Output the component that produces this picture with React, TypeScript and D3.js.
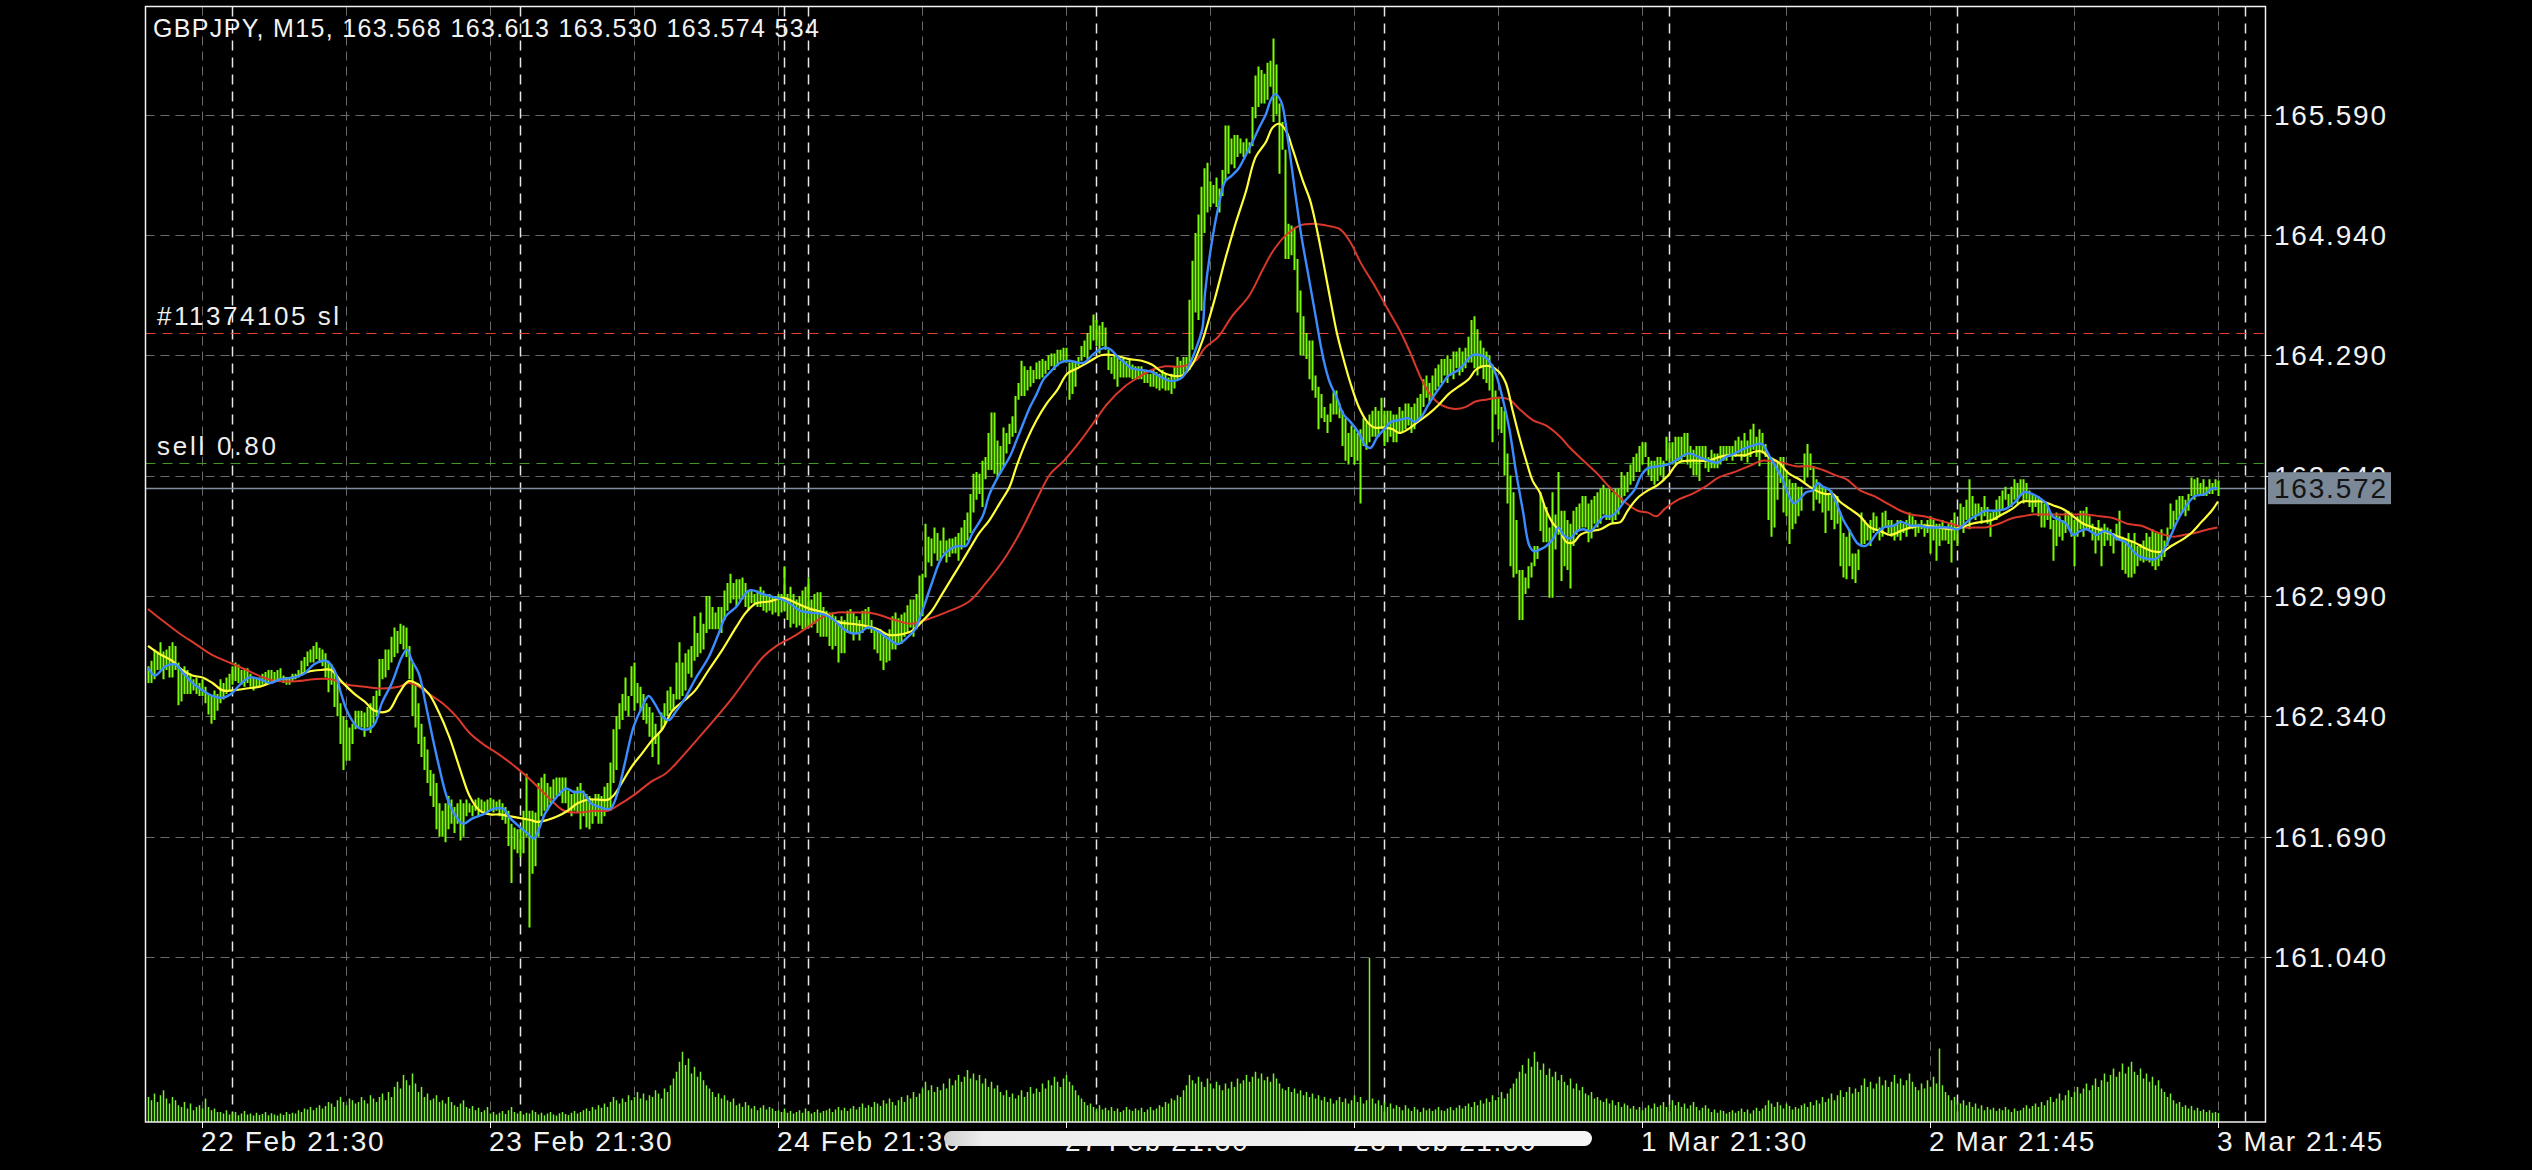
import React from 'react';
import * as d3 from 'd3';

// ---------------- DATA ----------------
const chartTitle = 'GBPJPY, M15, 163.568 163.613 163.530 163.574 534';
const priceTicks = [165.59, 164.94, 164.29, 163.64, 162.99, 162.34, 161.69, 161.04];
const timeLabels = ['22 Feb 21:30', '23 Feb 21:30', '24 Feb 21:30', '27 Feb 21:30', '28 Feb 21:30', '1 Mar 21:30', '2 Mar 21:45', '3 Mar 21:45'];
const timeLabelBars = [18, 114, 210, 306, 402, 498, 594, 690];
const gridBars = [18, 66, 114, 162, 210, 258, 306, 354, 402, 450, 498, 546, 594, 642, 690];
const daySeparatorBars = [28, 124, 212, 220, 316, 412, 507, 603, 699];
const stopLossPrice = 164.408;
const sellPrice = 163.706;
const bidPrice = 163.572;
const stopLossLabel = '#11374105 sl';
const sellLabel = 'sell 0.80';

// [high, low] per M15 bar
const priceBars: [number, number][] = [
[162.61,162.52],[162.64,162.52],[162.70,162.54],[162.69,162.59],[162.74,162.59],[162.69,162.54],[162.70,162.59],[162.72,162.55],[162.74,162.55],[162.72,162.59],
[162.63,162.40],[162.59,162.42],[162.61,162.46],[162.59,162.46],[162.57,162.46],[162.54,162.48],[162.55,162.46],[162.52,162.45],[162.54,162.45],[162.50,162.41],
[162.46,162.35],[162.45,162.30],[162.48,162.32],[162.46,162.37],[162.54,162.41],[162.52,162.43],[162.55,162.46],[162.57,162.48],[162.61,162.51],[162.63,162.53],
[162.62,162.52],[162.59,162.51],[162.60,162.50],[162.60,162.52],[162.57,162.50],[162.55,162.48],[162.55,162.50],[162.55,162.50],[162.57,162.51],[162.58,162.51],
[162.59,162.52],[162.59,162.53],[162.58,162.53],[162.59,162.54],[162.60,162.54],[162.56,162.52],[162.55,162.51],[162.55,162.51],[162.57,162.53],[162.57,162.54],
[162.59,162.55],[162.64,162.56],[162.66,162.58],[162.69,162.61],[162.70,162.63],[162.72,162.63],[162.74,162.65],[162.71,162.63],[162.70,162.61],[162.68,162.55],
[162.64,162.47],[162.62,162.51],[162.59,162.39],[162.54,162.34],[162.41,162.19],[162.34,162.05],[162.32,162.10],[162.28,162.10],[162.30,162.19],[162.37,162.27],
[162.37,162.28],[162.37,162.28],[162.36,162.23],[162.39,162.28],[162.41,162.25],[162.45,162.30],[162.48,162.34],[162.65,162.45],[162.65,162.54],[162.70,162.55],
[162.70,162.59],[162.77,162.63],[162.82,162.66],[162.80,162.68],[162.84,162.73],[162.83,162.70],[162.82,162.66],[162.72,162.54],[162.63,162.34],[162.52,162.28],
[162.41,162.19],[162.30,162.12],[162.23,162.05],[162.16,161.98],[162.05,161.91],[162.03,161.85],[161.98,161.73],[161.87,161.69],[161.83,161.69],[161.87,161.66],
[161.91,161.73],[161.89,161.76],[161.85,161.71],[161.87,161.76],[161.89,161.67],[161.87,161.69],[161.89,161.80],[161.87,161.82],[161.86,161.80],[161.89,161.83],
[161.90,161.80],[161.89,161.83],[161.88,161.82],[161.89,161.82],[161.90,161.83],[161.89,161.82],[161.88,161.83],[161.89,161.80],[161.87,161.78],[161.85,161.76],
[161.83,161.64],[161.76,161.44],[161.74,161.62],[161.73,161.60],[161.73,161.58],[161.83,161.60],[162.03,161.69],[161.83,161.20],[161.83,161.49],[161.82,161.53],
[161.98,161.69],[162.01,161.80],[162.03,161.83],[161.98,161.83],[161.96,161.87],[162.00,161.89],[162.01,161.91],[162.01,161.91],[162.01,161.87],[162.01,161.87],
[161.94,161.83],[161.92,161.80],[161.94,161.83],[161.96,161.82],[161.98,161.73],[161.94,161.80],[161.92,161.74],[161.91,161.73],[161.89,161.76],[161.92,161.80],
[161.92,161.76],[161.91,161.76],[161.96,161.80],[161.98,161.83],[162.09,161.83],[162.27,161.98],[162.34,162.05],[162.41,162.27],[162.46,162.32],[162.55,162.37],
[162.45,162.34],[162.61,162.45],[162.63,162.37],[162.52,162.41],[162.50,162.37],[162.46,162.32],[162.41,162.30],[162.39,162.23],[162.36,162.12],[162.30,162.19],
[162.25,162.08],[162.36,162.27],[162.41,162.30],[162.48,162.34],[162.50,162.37],[162.46,162.37],
[162.63,162.43],[162.74,162.43],[162.63,162.45],[162.68,162.48],[162.70,162.57],[162.72,162.55],[162.88,162.64],[162.79,162.66],[162.90,162.68],[162.84,162.70],
[162.99,162.79],[162.99,162.81],[162.93,162.81],[162.90,162.81],[162.93,162.81],[162.93,162.79],[163.02,162.86],[163.06,162.91],[163.11,162.95],[163.06,162.97],
[163.08,162.93],[163.08,162.97],[163.09,162.97],[163.06,162.93],[163.02,162.91],[163.02,162.95],[163.00,162.95],[163.02,162.93],[163.04,162.93],[163.02,162.91],
[162.99,162.90],[163.00,162.91],[162.99,162.89],[162.99,162.90],[163.00,162.88],[163.00,162.90],[163.15,162.91],[163.00,162.86],[163.04,162.82],[163.00,162.84],
[162.97,162.82],[162.99,162.83],[163.02,162.81],[163.04,162.81],[163.09,162.82],[162.97,162.82],[163.00,162.84],[163.01,162.79],[163.01,162.77],[162.93,162.77],
[162.91,162.77],[162.90,162.72],[162.90,162.70],[162.88,162.72],[162.86,162.63],[162.88,162.68],[162.86,162.68],[162.91,162.79],[162.92,162.79],[162.90,162.75],
[162.88,162.79],[162.86,162.75],[162.91,162.79],[162.92,162.81],[162.93,162.81],[162.86,162.79],[162.82,162.70],[162.81,162.68],[162.81,162.64],[162.79,162.59],
[162.77,162.63],[162.81,162.64],[162.88,162.70],[162.90,162.70],[162.87,162.73],[162.89,162.73],[162.90,162.77],[162.94,162.79],[162.97,162.82],[162.97,162.77],
[163.00,162.81],[163.10,162.86],[163.11,162.88],[163.38,163.09],[163.31,163.17],[163.30,163.15],[163.36,163.22],[163.33,163.18],[163.29,163.18],[163.36,163.22],
[163.29,163.17],[163.30,163.20],[163.30,163.22],[163.31,163.22],[163.33,163.18],[163.36,163.24],[163.40,163.26],[163.44,163.29],[163.54,163.33],[163.65,163.44],
[163.66,163.51],[163.65,163.54],[163.72,163.47],[163.74,163.62],[163.87,163.67],[163.98,163.67],[163.98,163.65],[163.83,163.63],[163.80,163.65],[163.90,163.69],
[163.87,163.76],[163.92,163.81],[163.96,163.85],[164.07,163.87],[164.14,164.05],[164.26,164.07],[164.23,164.07],[164.21,164.10],[164.23,164.12],[164.21,164.14],
[164.25,164.16],[164.26,164.16],[164.27,164.17],[164.26,164.19],[164.29,164.21],[164.30,164.23],[164.30,164.21],[164.32,164.23],[164.32,164.26],[164.33,164.26],
[164.33,164.25],[164.25,164.05],[164.26,164.08],[164.26,164.12],[164.28,164.23],[164.34,164.26],[164.37,164.28],[164.41,164.27],[164.45,164.32],[164.51,164.37],
[164.48,164.34],[164.45,164.30],[164.47,164.34],[164.44,164.32],[164.32,164.21],[164.28,164.19],[164.30,164.16],[164.28,164.12],[164.26,164.17],[164.28,164.17],
[164.26,164.17],[164.27,164.17],[164.24,164.16],[164.23,164.16],[164.23,164.16],[164.23,164.16],[164.21,164.14],[164.19,164.14],[164.19,164.12],[164.21,164.12],
[164.20,164.11],[164.19,164.10],[164.21,164.11],[164.19,164.10],[164.17,164.10],[164.19,164.08],[164.23,164.11],[164.28,164.16],[164.26,164.18],[164.28,164.19],
[164.28,164.21],[164.59,164.21],[164.80,164.32],[164.95,164.52],[165.05,164.48],[165.20,164.53],[165.30,164.95],
[165.33,165.06],[165.23,165.09],[165.21,165.11],[165.25,165.09],[165.19,165.06],[165.29,165.15],[165.53,165.23],[165.53,165.27],[165.46,165.32],[165.48,165.30],
[165.48,165.36],[165.46,165.38],[165.44,165.36],[165.46,165.38],[165.44,165.38],[165.63,165.42],[165.80,165.57],[165.85,165.63],[165.83,165.65],[165.81,165.65],
[165.87,165.67],[165.88,165.74],[166.00,165.55],[165.86,165.59],[165.65,165.27],[165.55,165.40],[165.40,164.81],[165.00,164.81],[164.99,164.83],[164.98,164.75],
[164.81,164.52],[164.64,164.29],[164.50,164.29],[164.41,164.27],[164.37,164.16],[164.37,164.10],[164.18,164.06],[164.12,163.89],[164.08,163.95],[164.01,163.93],
[163.97,163.87],[164.03,163.93],[164.09,163.97],[164.10,163.97],[164.03,163.95],[163.99,163.80],[163.95,163.72],[163.87,163.70],[163.91,163.74],[163.89,163.70],
[163.87,163.72],[163.89,163.49],[163.95,163.80],[163.93,163.78],[163.97,163.82],[163.99,163.85],[164.01,163.85],[163.99,163.85],[164.06,163.89],[163.99,163.80],
[163.99,163.82],[163.99,163.85],[163.97,163.82],[163.97,163.82],[164.01,163.87],[163.99,163.87],[164.03,163.89],[164.03,163.91],[164.01,163.87],[164.03,163.89],
[164.06,163.93],[164.08,163.95],[164.16,164.01],[164.18,164.06],[164.14,164.03],[164.18,164.06],[164.22,164.10],[164.24,164.12],[164.27,164.14],[164.27,164.18],
[164.29,164.14],[164.27,164.18],[164.31,164.16],[164.31,164.22],[164.33,164.18],[164.31,164.20],[164.33,164.22],[164.39,164.25],[164.48,164.25],[164.50,164.22],
[164.43,164.18],[164.37,164.22],[164.33,164.16],[164.31,164.14],[164.29,164.10],[164.24,163.82],[164.10,163.97],[164.06,163.89],[164.01,163.87],[163.99,163.64],
[163.76,163.49],[163.64,163.15],[163.55,163.09],[163.40,163.11],[163.13,162.86],[163.13,162.86],[163.09,163.00],[163.15,163.03],[163.17,163.09],[163.26,163.15],
[163.26,163.19],[163.55,163.34],[163.49,163.28],[163.47,163.28],[163.36,162.98],[163.55,162.98],[163.43,163.24],[163.66,163.32],[163.45,163.07],[163.45,163.15],
[163.40,163.13],[163.38,163.03],[163.45,163.26],[163.47,163.32],[163.49,163.34],[163.53,163.36],[163.53,163.36],[163.49,163.28],[163.51,163.30],[163.53,163.38],
[163.55,163.36],[163.57,163.38],[163.59,163.43],[163.57,163.40],[163.57,163.40],[163.55,163.38],[163.57,163.40],[163.57,163.43],[163.66,163.49],[163.64,163.53],
[163.66,163.55],[163.70,163.59],[163.74,163.61],[163.76,163.66],[163.80,163.66],[163.82,163.70],[163.82,163.74],[163.74,163.64],[163.72,163.61],[163.72,163.59],
[163.74,163.61],[163.74,163.64],[163.72,163.61],[163.85,163.72],[163.82,163.70],[163.82,163.70],[163.85,163.70],[163.85,163.72],[163.85,163.72],[163.87,163.74],
[163.87,163.70],[163.80,163.68],[163.78,163.64],[163.80,163.64],[163.80,163.61],[163.80,163.72],[163.80,163.68],[163.74,163.66],[163.78,163.68],[163.76,163.68],
[163.76,163.68],[163.80,163.70],[163.80,163.72],[163.80,163.72],[163.80,163.74],[163.80,163.72],
[163.83,163.74],[163.85,163.76],[163.83,163.72],[163.87,163.74],[163.83,163.71],[163.89,163.74],[163.92,163.78],[163.85,163.74],[163.89,163.69],[163.87,163.76],
[163.81,163.74],[163.76,163.40],[163.74,163.31],[163.71,163.36],[163.71,163.51],[163.74,163.60],[163.74,163.44],[163.67,163.42],[163.62,163.27],[163.60,163.35],
[163.60,163.38],[163.58,163.42],[163.58,163.45],[163.76,163.60],[163.81,163.63],[163.76,163.67],[163.69,163.45],[163.62,163.51],[163.60,163.49],[163.58,163.44],
[163.58,163.33],[163.54,163.45],[163.56,163.40],[163.51,163.35],[163.53,163.38],[163.44,163.15],[163.33,163.09],[163.31,163.08],[163.35,163.15],[163.22,163.08],
[163.22,163.06],[163.24,163.13],[163.44,163.26],[163.40,163.27],[163.38,163.29],[163.40,163.26],[163.44,163.33],[163.42,163.35],[163.36,163.29],[163.44,163.31],
[163.45,163.36],[163.40,163.33],[163.40,163.31],[163.38,163.29],[163.40,163.31],[163.40,163.29],[163.38,163.33],[163.40,163.31],[163.44,163.35],[163.42,163.35],
[163.40,163.31],[163.38,163.33],[163.40,163.35],[163.38,163.31],[163.40,163.33],[163.42,163.22],[163.40,163.29],[163.38,163.18],[163.38,163.26],[163.40,163.29],
[163.36,163.29],[163.38,163.27],[163.40,163.17],[163.44,163.29],[163.35,163.26],[163.49,163.36],[163.47,163.33],[163.51,163.40],[163.62,163.35],[163.53,163.42],
[163.49,163.40],[163.49,163.42],[163.47,163.38],[163.53,163.42],[163.47,163.38],[163.44,163.31],[163.45,163.40],[163.51,163.40],[163.53,163.42],[163.56,163.45],
[163.58,163.51],[163.54,163.47],[163.58,163.47],[163.62,163.51],[163.60,163.49],[163.62,163.53],[163.62,163.49],[163.60,163.51],[163.56,163.47],[163.54,163.44],
[163.53,163.47],[163.53,163.42],[163.51,163.36],[163.49,163.36],[163.49,163.40],[163.44,163.35],[163.40,163.18],[163.44,163.26],[163.42,163.31],[163.40,163.29],
[163.44,163.33],[163.45,163.35],[163.44,163.31],[163.40,163.15],[163.42,163.31],[163.45,163.35],[163.45,163.31],[163.47,163.35],[163.42,163.35],[163.38,163.29],
[163.36,163.22],[163.40,163.29],[163.36,163.15],[163.38,163.26],[163.36,163.29],[163.35,163.26],[163.33,163.22],[163.38,163.29],[163.45,163.29],[163.31,163.13],
[163.29,163.11],[163.33,163.09],[163.29,163.09],[163.33,163.11],[163.26,163.15],[163.27,163.18],[163.29,163.17],[163.33,163.18],[163.31,163.17],[163.35,163.15],
[163.33,163.13],[163.33,163.15],[163.35,163.18],[163.29,163.20],[163.36,163.26],[163.49,163.35],[163.45,163.35],[163.51,163.40],[163.53,163.42],[163.53,163.44],
[163.51,163.42],[163.54,163.45],[163.63,163.53],[163.62,163.51],[163.63,163.54],[163.60,163.53],[163.62,163.53],[163.58,163.53],[163.62,163.54],[163.60,163.54],
[163.62,163.56],[163.613,163.53]
];

// tick volume per bar
const volumes: number[] = [
1500,1300,1700,1200,1600,1900,1400,1100,1500,1300,1000,900,1200,800,1100,700,900,1000,800,1400,900,700,800,600,
600,500,700,450,550,600,400,500,650,450,500,380,550,420,480,600,400,520,450,380,500,420,600,480,
550,500,700,600,800,750,900,700,850,1000,800,950,1200,1100,900,1300,1500,1200,1000,1400,1300,1100,1200,1500,
1300,1100,1600,1400,1200,1500,1700,1300,1800,1500,2100,2400,2000,2800,2500,2200,2900,2300,1800,2100,1500,1700,1300,1400,
1600,1200,1300,1100,1500,1200,1000,900,1100,1300,900,800,950,700,850,600,700,900,500,600,450,550,650,480,
700,900,600,500,650,450,550,500,700,600,450,550,400,500,600,450,380,520,600,480,420,550,650,500,
600,700,800,650,900,750,1000,850,1100,900,1200,1500,1300,1100,1400,1200,1600,1300,1500,1800,1400,1700,1300,1600,
1500,1900,1700,1400,2000,1800,2200,2600,3000,3600,4200,3400,3800,2900,3300,2700,3000,2500,2200,2000,1800,1500,1700,1400,
1600,1300,1200,1400,1000,1100,900,1200,1000,800,950,700,850,1000,750,900,800,650,700,600,800,550,650,500,
600,700,550,800,650,500,600,750,550,650,700,800,600,750,900,700,850,650,800,950,750,900,1100,850,
1000,900,1200,1100,950,1300,1100,1400,1200,1000,1300,1500,1200,1600,1400,1800,1500,1700,2000,2400,1900,2200,1800,2100,
1900,2300,2000,2600,2200,2500,2800,2400,2700,3100,2600,2900,2500,2800,2300,2600,2100,2400,2000,2200,1800,1600,1900,1500,
1700,1400,1600,1900,1500,1800,2100,1700,2000,1800,2300,2000,2500,2200,2700,2400,2100,2600,2800,2400,2200,1900,1600,1400,
1200,1000,1100,900,800,1000,750,850,700,900,650,800,600,700,900,750,650,800,700,850,600,750,900,700,
800,1000,900,1200,1100,1400,1300,1600,1500,1900,2200,2800,2500,2300,2700,2400,2100,2600,2300,2000,2400,2200,1900,2300,
2000,2400,2100,2600,2300,2500,2800,2400,2700,3000,2600,2900,2500,2700,2400,2900,2600,2300,2000,1900,2100,1800,2000,1700,
1900,1600,1800,1500,1700,1400,1600,1300,1500,1200,1400,1100,1300,1500,1200,1400,1100,1300,1600,1200,1500,1100,1300,9800,
1400,1100,1300,1000,1200,900,1100,800,1000,900,700,1000,800,650,900,750,600,850,700,800,650,750,900,700,
650,800,900,700,850,1000,800,950,1100,900,1200,1000,1300,1100,1400,1200,1600,1300,1500,1800,1400,1700,2000,2300,
2600,3000,3400,2900,3800,3300,4200,3600,3100,3500,2800,3200,2700,3000,2500,2800,2400,2200,2600,2000,2300,1900,2100,1700,
1600,1800,1400,1500,1300,1200,1400,1100,1300,1000,1200,900,1100,1000,800,950,750,900,700,850,1000,800,1100,900,
1000,1200,900,1100,1300,1000,1200,900,1100,800,1000,1200,900,700,850,1000,800,600,750,550,700,650,500,600,
700,550,650,800,600,750,500,700,850,650,800,1000,1300,1100,900,1200,1000,800,1100,950,750,900,800,1000,
1100,900,1200,1000,1300,1100,1500,1200,1400,1700,1300,1600,1900,1500,1800,2100,1700,2000,1800,2200,2600,2100,2400,2000,
2300,2700,2200,2500,2100,2400,2800,2300,2600,2200,2500,2900,2400,2100,1900,2300,2000,2500,2100,2700,2300,4400,2200,1800,
1600,1300,1500,1200,1100,1300,1000,1200,900,1100,800,1000,700,900,750,850,650,800,700,900,750,600,800,650,
700,850,1000,800,950,1100,900,1200,1000,1300,1500,1200,1400,1700,1300,1600,1900,1500,1800,2100,1700,2000,2300,1900,
2200,2600,2100,2500,2900,2400,2800,3200,2700,3000,3500,2900,3300,3600,3000,2800,3200,2600,2900,2400,2700,2200,2500,2000,
1800,1500,1700,1300,1100,1200,900,1000,800,950,700,850,650,750,600,700,550,600,534
];

// moving averages: [bar index, price]
const maFast: [number, number][] = [
[0,162.60],[2.4,162.56],[5.8,162.61],[9.1,162.62],[11.4,162.58],[14.8,162.52],[18.2,162.48],[21.5,162.45],[24.9,162.44],[27.7,162.46],[30.6,162.51],[33.9,162.55],[37.3,162.54],[40.7,162.52],[44.1,162.54],[48.6,162.55],[52.0,162.57],[55.3,162.62],[59.3,162.64],[62.1,162.59],[64.4,162.46],[66.6,162.36],[70.0,162.28],[73.4,162.27],[75.6,162.30],[77.9,162.41],[81.3,162.52],[84.6,162.66],[86.3,162.70],[88.0,162.64],[90.3,162.57],[92.5,162.41],[94.8,162.23],[97.0,162.07],[99.3,161.92],[101.5,161.83],[104.9,161.76],[108.3,161.79],[111.7,161.81],[115.1,161.84],[118.5,161.84],[120.7,161.79],[124.1,161.74],[126.3,161.71],[128.6,161.68],[130.3,161.73],[132.5,161.82],[136.5,161.91],[139.3,161.95],[142.1,161.93],[144.9,161.93],[147.7,161.87],[150.6,161.85],[154.0,161.84],[156.2,161.91],[159.0,162.09],[161.8,162.28],[164.7,162.39],[166.9,162.45],[169.2,162.40],[171.4,162.34],[173.7,162.32],[175.7,162.36],
[179.1,162.44],[182.4,162.54],[186.9,162.66],[190.3,162.79],[192.6,162.88],[196.0,162.93],[200.5,163.02],[205.0,163.00],[209.5,162.98],[212.9,162.96],[217.4,162.91],[220.7,162.90],[225.3,162.89],[228.6,162.86],[232.0,162.81],[234.3,162.79],[237.1,162.79],[239.9,162.82],[243.3,162.80],[246.7,162.76],[250.0,162.73],[253.4,162.77],[255.7,162.81],[257.9,162.90],[261.3,163.06],[264.7,163.20],[268.1,163.25],[270.3,163.26],[272.6,163.26],[274.8,163.33],[278.2,163.42],[280.5,163.54],[283.9,163.65],[287.2,163.74],[289.5,163.83],[291.7,163.92],[294.0,164.01],[296.2,164.08],[298.5,164.16],[300.8,164.20],[304.1,164.25],[307.0,164.26],[309.8,164.25],[312.0,164.25],[315.4,164.30],[318.8,164.33],[321.0,164.32],[323.3,164.28],[325.5,164.25],[327.8,164.22],[331.2,164.21],[334.6,164.20],[337.9,164.17],[341.3,164.15],[344.7,164.17],[346.9,164.23],[349.2,164.32],[351.5,164.44],
[352.3,164.62],[354.6,164.90],[356.8,165.09],[359.1,165.23],[361.3,165.26],[363.6,165.30],[365.9,165.37],[368.1,165.44],[370.4,165.52],[372.6,165.59],[374.3,165.67],[375.7,165.70],[377.7,165.66],[379.9,165.46],[382.2,165.19],[384.4,164.94],[386.7,164.73],[389.0,164.52],[391.8,164.27],[394.0,164.14],[396.3,164.06],[398.5,163.97],[400.8,163.93],[403.6,163.87],[405.9,163.80],[407.6,163.79],[409.8,163.85],[412.1,163.89],[414.3,163.93],[417.1,163.94],[420.0,163.95],[422.2,163.93],[424.5,163.96],[426.7,164.02],[429.0,164.08],[431.2,164.13],[433.5,164.18],[436.8,164.21],[439.1,164.25],[441.4,164.29],[444.2,164.29],[446.4,164.27],[449.2,164.19],[451.5,164.06],[453.8,163.89],[456.0,163.66],[458.3,163.45],[460.5,163.26],[462.2,163.23],[463.9,163.24],[466.1,163.26],[468.4,163.30],[470.1,163.36],[471.8,163.32],[474.0,163.30],[476.3,163.34],[478.5,163.35],[480.8,163.34],[483.1,163.38],[485.3,163.42],[487.6,163.42],[489.8,163.45],[492.1,163.50],[495.4,163.56],[497.7,163.64],[500.0,163.68],[503.3,163.69],[506.7,163.70],[510.1,163.73],[513.5,163.76],[516.9,163.74],[520.2,163.72],[523.1,163.71],[525.9,163.74],[529.0,163.76],
[531.3,163.78],[534.6,163.80],[538.0,163.81],[540.3,163.75],[542.5,163.69],[544.8,163.62],[547.0,163.53],[548.7,163.49],[550.4,163.51],[552.7,163.55],[554.9,163.56],[556.6,163.60],[558.3,163.58],[560.6,163.56],[562.8,163.49],[565.1,163.40],[567.3,163.34],[570.1,163.27],[572.4,163.26],[574.1,163.28],[576.3,163.33],[578.6,163.36],[582.0,163.37],[584.2,163.39],[587.6,163.37],[590.4,163.37],[593.2,163.36],[596.6,163.36],[600.0,163.36],[603.4,163.35],[605.6,163.38],[607.9,163.41],[610.1,163.43],[612.4,163.45],[615.8,163.45],[619.2,163.46],[622.5,163.50],[625.3,163.55],[628.2,163.54],[630.4,163.52],[632.7,163.49],[634.9,163.42],[637.2,163.40],[639.4,163.38],[641.7,163.32],[644.0,163.34],[646.2,163.35],[649.6,163.32],[651.8,163.34],[654.1,163.33],[656.3,163.30],[659.2,163.28],[660.8,163.25],[663.1,163.21],[666.5,163.19],[669.3,163.19],[671.6,163.23],[674.4,163.32],[676.6,163.40],[680.0,163.49],[682.3,163.53],[685.6,163.54],[687.9,163.57],[690,163.57]
];

const maMid: [number, number][] = [
[0,162.72],[3.5,162.68],[8.0,162.64],[11.4,162.59],[14.8,162.56],[18.2,162.55],[21.5,162.52],[24.9,162.48],[28.3,162.48],[32.8,162.49],[37.3,162.50],[40.7,162.52],[44.1,162.54],[48.6,162.55],[53.1,162.58],[57.6,162.59],[61.0,162.59],[64.4,162.53],[68.9,162.46],[72.2,162.42],[75.6,162.37],[80.1,162.37],[83.5,162.46],[86.9,162.53],[90.3,162.51],[93.7,162.46],[97.0,162.36],[100.4,162.23],[102.7,162.12],[104.9,162.01],[107.2,161.91],[110.6,161.83],[114.0,161.81],[117.3,161.81],[120.7,161.80],[124.1,161.79],[127.5,161.78],[129.7,161.77],[133.1,161.78],[136.5,161.80],[139.9,161.83],[143.2,161.87],[146.6,161.89],[150.0,161.89],[153.4,161.89],[155.6,161.92],[157.9,161.98],[161.3,162.07],[164.7,162.14],[168.0,162.21],[171.4,162.27],[174.8,162.37],
[179.1,162.43],[182.4,162.48],[186.9,162.59],[191.5,162.70],[196.0,162.82],[199.3,162.90],[202.7,162.95],[207.2,162.96],[211.7,162.98],[216.2,162.95],[220.7,162.92],[225.3,162.90],[229.8,162.85],[234.3,162.84],[238.8,162.83],[243.3,162.81],[246.7,162.78],[250.0,162.78],[254.5,162.80],[257.9,162.85],[261.3,162.91],[264.7,163.00],[268.1,163.09],[271.5,163.18],[274.8,163.27],[277.1,163.33],[280.5,163.40],[283.9,163.49],[287.2,163.58],[289.5,163.69],[292.9,163.83],[296.2,163.94],[299.6,164.03],[303.0,164.10],[306.4,164.19],[309.8,164.22],[313.2,164.25],[317.7,164.29],[322.2,164.29],[326.7,164.27],[331.2,164.26],[334.6,164.24],[337.9,164.20],[341.3,164.18],[344.7,164.18],[348.1,164.24],[351.5,164.37],
[352.3,164.41],[355.7,164.60],[359.1,164.81],[362.5,165.00],[365.9,165.17],[369.2,165.36],[372.6,165.44],[374.9,165.52],[377.1,165.54],[379.4,165.50],[381.6,165.40],[385.0,165.23],[387.3,165.13],[389.5,164.98],[391.8,164.79],[394.0,164.60],[396.3,164.41],[398.5,164.27],[400.8,164.14],[403.6,164.01],[406.4,163.93],[408.7,163.90],[412.1,163.90],[414.9,163.89],[417.1,163.87],[420.0,163.89],[423.3,163.93],[426.7,163.97],[430.1,164.02],[433.5,164.08],[436.8,164.12],[440.2,164.16],[442.5,164.21],[444.7,164.23],[447.6,164.23],[450.4,164.20],[452.6,164.14],[454.9,163.99],[457.1,163.85],[459.4,163.72],[461.6,163.61],[463.9,163.55],[466.1,163.45],[468.4,163.38],[470.7,163.34],[472.9,163.28],[475.2,163.28],[477.4,163.32],[480.8,163.34],[484.2,163.35],[487.6,163.38],[490.9,163.39],[493.2,163.45],[496.6,163.52],[500.0,163.56],[503.3,163.59],[506.7,163.64],[510.1,163.71],[513.5,163.72],[516.9,163.72],[520.2,163.72],[523.6,163.74],[527.0,163.75],
[529,163.75],[532.4,163.75],[535.8,163.77],[538.0,163.77],[540.3,163.74],[543.6,163.71],[547.0,163.65],[550.4,163.62],[553.8,163.58],[557.2,163.55],[559.4,163.54],[561.7,163.54],[563.9,163.50],[567.3,163.46],[570.7,163.42],[574.1,163.36],[577.5,163.34],[580.8,163.32],[584.2,163.34],[587.6,163.36],[592.1,163.37],[596.6,163.36],[601.1,163.35],[604.5,163.36],[607.9,163.38],[611.3,163.39],[614.6,163.40],[618.0,163.43],[621.4,163.46],[624.8,163.50],[628.2,163.50],[631.5,163.50],[634.9,163.48],[638.3,163.46],[641.7,163.42],[645.1,163.38],[648.5,163.36],[651.8,163.34],[655.2,163.32],[658.6,163.30],[662.0,163.28],[665.4,163.25],[668.7,163.23],[671.6,163.23],[674.4,163.26],[677.7,163.29],[681.1,163.33],[684.5,163.39],[687.9,163.45],[690,163.50]
];

const maSlow: [number, number][] = [
[0,162.92],[4.6,162.86],[10.3,162.79],[15.9,162.73],[21.5,162.67],[27.2,162.63],[32.8,162.59],[38.4,162.55],[43.0,162.53],[49.7,162.53],[55.3,162.54],[61.0,162.54],[66.6,162.51],[72.2,162.50],[77.9,162.49],[83.5,162.50],[86.9,162.52],[90.3,162.50],[93.7,162.46],[98.2,162.41],[102.7,162.34],[107.2,162.25],[111.7,162.19],[117.3,162.13],[123.0,162.06],[128.6,161.98],[134.2,161.89],[138.7,161.83],[143.2,161.82],[148.9,161.83],[153.4,161.83],[156.8,161.86],[162.4,161.92],[168.0,161.99],[172.5,162.03],[175.7,162.08],
[194.8,162.44],[199.3,162.54],[205.0,162.66],[209.5,162.72],[215.1,162.77],[220.7,162.83],[225.3,162.88],[229.8,162.90],[234.3,162.90],[239.9,162.90],[243.3,162.89],[248.9,162.86],[254.5,162.84],[259.1,162.86],[265.8,162.90],[273.7,162.96],[279.3,163.06],[285.0,163.18],[290.6,163.33],[296.2,163.51],[300.8,163.65],[305.3,163.72],[310.9,163.83],[315.4,163.93],[319.9,164.03],[325.5,164.12],[330.1,164.17],[334.6,164.21],[339.1,164.23],[344.7,164.23],[349.2,164.26],
[352.3,164.33],[356.8,164.39],[361.3,164.50],[367.0,164.61],[371.5,164.75],[374.9,164.85],[379.4,164.94],[383.9,164.99],[388.4,165.00],[392.9,164.99],[397.4,164.97],[400.8,164.90],[404.2,164.79],[408.7,164.67],[413.2,164.54],[417.7,164.41],[421.1,164.29],[424.5,164.16],[427.8,164.07],[431.2,164.02],[435.7,164.00],[439.1,164.01],[442.5,164.04],[445.9,164.05],[450.4,164.06],[453.8,164.05],[457.1,164.00],[461.6,163.94],[466.1,163.91],[470.7,163.85],[474.0,163.79],[478.5,163.72],[483.1,163.65],[487.6,163.57],[492.1,163.50],[496.6,163.45],[500.0,163.44],[502.8,163.42],[505.6,163.46],[510.1,163.51],[514.6,163.54],[519.1,163.58],[523.6,163.63],[529.0,163.66],
[533.5,163.69],[538.0,163.72],[540.3,163.72],[544.8,163.71],[549.3,163.69],[553.8,163.69],[558.3,163.67],[562.8,163.64],[566.2,163.62],[570.7,163.56],[575.2,163.53],[579.7,163.49],[584.2,163.45],[587.6,163.43],[592.1,163.42],[596.6,163.40],[601.1,163.38],[605.6,163.36],[610.1,163.36],[612.4,163.36],[616.9,163.38],[621.4,163.41],[624.8,163.42],[628.2,163.43],[632.7,163.43],[637.2,163.43],[641.7,163.43],[646.2,163.43],[650.7,163.42],[655.2,163.41],[659.7,163.38],[664.2,163.37],[668.7,163.34],[672.1,163.32],[675.5,163.31],[678.9,163.32],[682.3,163.33],[686.8,163.35],[689.8,163.36]
];

// ---------------- LAYOUT ----------------
const W = 2532;
const H = 1170;
const PL = 145.5;
const PR = 2265.5;
const PT = 6.5;
const PB = 1122;
const FONT = "'Liberation Sans', Arial, Helvetica, sans-serif";

export default function App() {
  const x = d3.scaleLinear().domain([0, 690]).range([148, 2218]);
  const y = d3.scaleLinear().domain([160.149, 166.176]).range([1122, 6]);
  const yVol = d3.scaleLinear().domain([0, 9800]).range([PB, 958]);
  const maLine = d3
    .line<[number, number]>()
    .x((d) => x(d[0]))
    .y((d) => y(d[1]))
    .curve(d3.curveCatmullRom.alpha(0.5));

  const barPath = priceBars
    .map(([h, l], i) => `M${x(i) + 0.5},${y(h).toFixed(1)}V${Math.max(y(l), y(h) + 1).toFixed(1)}`)
    .join('');
  const volPath = volumes
    .map((v, i) => `M${x(i) + 0.5},${PB}V${yVol(v).toFixed(1)}`)
    .join('');

  const crisp = (v: number) => Math.round(v) + 0.5;
  const fmt = d3.format('.3f');

  return (
    <div style={{ position: 'fixed', left: 0, top: 0, width: W, height: H, background: '#000' }}>
      <svg width={W} height={H} viewBox={`0 0 ${W} ${H}`} style={{ display: 'block' }}>
        <defs>
          <clipPath id="plot">
            <rect x={PL} y={PT} width={PR - PL} height={PB - PT} />
          </clipPath>
          <linearGradient id="pill" x1="0" x2="1" y1="0" y2="0">
            <stop offset="0" stopColor="#cfcfcf" />
            <stop offset="0.06" stopColor="#ececec" />
            <stop offset="1" stopColor="#f5f5f5" />
          </linearGradient>
        </defs>
        <rect x={0} y={0} width={W} height={H} fill="#000" />

        {/* grid */}
        <g stroke="#6a6a6a" strokeWidth={1} strokeDasharray="9 6">
          {priceTicks.map((p) => (
            <line key={'h' + p} x1={PL} x2={PR} y1={crisp(y(p))} y2={crisp(y(p))} />
          ))}
          {gridBars.map((b) => (
            <line key={'v' + b} x1={x(b) + 0.5} x2={x(b) + 0.5} y1={PT} y2={PB} />
          ))}
        </g>
        {/* day separators */}
        <g stroke="#e6e6e6" strokeWidth={1.5} strokeDasharray="10 7" clipPath="url(#plot)">
          {daySeparatorBars.map((b) => (
            <line key={'s' + b} x1={x(b) + 0.5} x2={x(b) + 0.5} y1={PT} y2={PB} />
          ))}
        </g>

        {/* volumes */}
        <path d={volPath} stroke="#7cf02e" strokeWidth={1.5} fill="none" clipPath="url(#plot)" />

        {/* order lines */}
        <line x1={PL} x2={PR} y1={crisp(y(stopLossPrice))} y2={crisp(y(stopLossPrice))} stroke="#e0402c" strokeWidth={1.2} strokeDasharray="10 7" />
        <line x1={PL} x2={PR} y1={crisp(y(sellPrice))} y2={crisp(y(sellPrice))} stroke="#3f9a22" strokeWidth={1.2} strokeDasharray="10 7" />
        <line x1={PL} x2={PR} y1={crisp(y(bidPrice))} y2={crisp(y(bidPrice))} stroke="#7f8ea0" strokeWidth={1.5} />
        <text x={157} y={y(stopLossPrice) - 8} fill="#eeeeee" fontFamily={FONT} fontSize={26} textLength={182} lengthAdjust="spacing">
          {stopLossLabel}
        </text>
        <text x={157} y={y(sellPrice) - 8} fill="#eeeeee" fontFamily={FONT} fontSize={26} textLength={119} lengthAdjust="spacing">
          {sellLabel}
        </text>

        {/* bars */}
        <path d={barPath} stroke="#7cfc00" strokeWidth={2} fill="none" clipPath="url(#plot)" />

        {/* moving averages */}
        <g fill="none" clipPath="url(#plot)" strokeLinejoin="round">
          <path d={maLine(maSlow) || ''} stroke="#d9382a" strokeWidth={2} />
          <path d={maLine(maMid) || ''} stroke="#ffff3a" strokeWidth={2.2} />
          <path d={maLine(maFast) || ''} stroke="#3b8cff" strokeWidth={2.4} />
        </g>

        {/* frame */}
        <rect x={PL} y={PT} width={PR - PL} height={PB - PT} fill="none" stroke="#f2f2f2" strokeWidth={1.5} />

        {/* price axis */}
        {priceTicks.map((p) => (
          <g key={'yl' + p}>
            <line x1={PR} x2={PR + 6} y1={crisp(y(p))} y2={crisp(y(p))} stroke="#f2f2f2" strokeWidth={1} />
            <text x={2274} y={y(p) + 10} fill="#f2f2f2" fontFamily={FONT} fontSize={28} textLength={112} lengthAdjust="spacing">
              {fmt(p)}
            </text>
          </g>
        ))}
        <rect x={2268} y={y(bidPrice) - 16} width={123} height={32} fill="#7a8898" />
        <text x={2274} y={y(bidPrice) + 10} fill="#141414" fontFamily={FONT} fontSize={28} textLength={112} lengthAdjust="spacing">
          {fmt(bidPrice)}
        </text>

        {/* time axis */}
        {timeLabelBars.map((b, k) => (
          <g key={'xl' + b}>
            <line x1={x(b) + 0.5} x2={x(b) + 0.5} y1={PB} y2={PB + 6} stroke="#f2f2f2" strokeWidth={1} />
            <text x={x(b) - 1} y={1151} fill="#f2f2f2" fontFamily={FONT} fontSize={28} style={{ letterSpacing: '1.6px' }}>
              {timeLabels[k]}
            </text>
          </g>
        ))}

        {/* title */}
        <text x={153} y={37} fill="#f2f2f2" fontFamily={FONT} fontSize={25} textLength={666} lengthAdjust="spacing">
          {chartTitle}
        </text>

        {/* home indicator overlay */}
        <rect x={944} y={1131} width={648} height={15} rx={7.5} fill="url(#pill)" />
      </svg>
    </div>
  );
}
